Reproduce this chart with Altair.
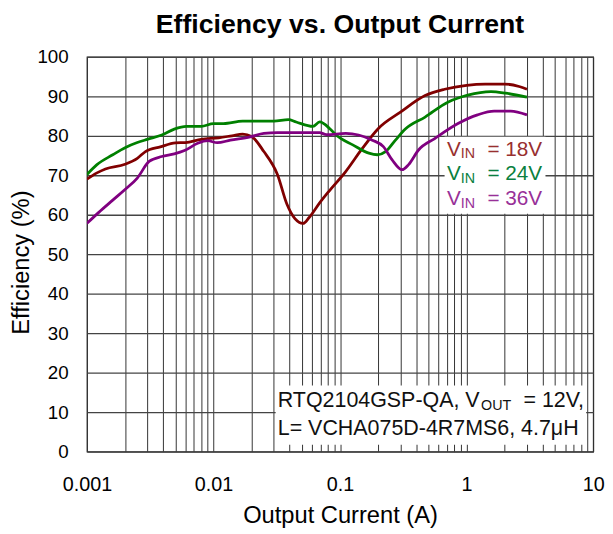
import altair as alt
import pandas as pd

# ---- data ----
x18 = [0.001, 0.0012, 0.0014, 0.002, 0.0025, 0.0029, 0.0038, 0.005, 0.006, 0.008, 0.011, 0.014,
       0.017, 0.02, 0.025, 0.032, 0.038, 0.044, 0.051, 0.057, 0.069, 0.082, 0.11, 0.15, 0.2, 0.3,
       0.47, 0.67, 1.0, 1.4, 2.0, 2.6, 3.0]
y18 = [69.0, 70.6, 71.6, 72.8, 74.3, 76.0, 77.2, 78.2, 78.3, 79.1, 79.5, 80.0,
       80.4, 79.8, 76.0, 70.2, 62.7, 59.0, 57.8, 59.3, 63.0, 66.0, 70.8, 76.8, 81.8, 86.0,
       90.2, 91.8, 92.8, 93.1, 93.1, 92.5, 91.8]

x24 = [0.001, 0.0012, 0.0016, 0.002, 0.0025, 0.003, 0.0039, 0.0049, 0.0061, 0.008, 0.01, 0.012,
       0.017, 0.03, 0.039, 0.045, 0.061, 0.069, 0.083, 0.093, 0.126, 0.169, 0.197, 0.229, 0.274,
       0.328, 0.47, 0.71, 1.02, 1.56, 2.04, 3.0]
y24 = [70.2, 72.7, 75.2, 77.0, 78.3, 79.1, 80.2, 81.7, 82.4, 82.4, 83.1, 83.1,
       83.7, 83.7, 84.1, 83.5, 82.4, 83.5, 81.8, 80.2, 77.7, 75.6, 75.2, 76.0, 78.9,
       81.7, 84.75, 88.5, 90.3, 91.2, 90.8, 89.8]

x36 = [0.001, 0.00124, 0.0016, 0.002, 0.0025, 0.0031, 0.0039, 0.0049, 0.0059, 0.0075, 0.009,
       0.0107, 0.0136, 0.0195, 0.025, 0.032, 0.069, 0.078, 0.111, 0.14, 0.18, 0.22, 0.258, 0.309,
       0.348, 0.417, 0.56, 0.855, 1.22, 1.65, 2.23, 3.0]
y36 = [57.8, 60.6, 63.7, 66.4, 69.3, 73.5, 74.75, 75.4, 76.25, 78.1, 78.75,
       78.25, 78.9, 79.75, 80.6, 80.8, 80.8, 80.3, 80.6, 80.2, 78.9, 77.25, 73.9, 71.4,
       72.7, 76.4, 79.3, 83.1, 85.3, 86.25, 86.25, 85.3]

series_names = ["18V", "24V", "36V"]
line_colors = ["#800000", "#008000", "#800080"]
text_colors = ["#983030", "#0a7f40", "#983098"]

x_ticks_all = [k * 10.0 ** e for e in range(-3, 1) for k in range(1, 10)] + [10.0]
y_ticks = list(range(0, 101, 10))

# ---- tables ----
rows = []
for name, col, xs, ys in zip(series_names, line_colors, [x18, x24, x36], [y18, y24, y36]):
    for a, b in zip(xs, ys):
        rows.append({"current": a, "eff": b, "series": name, "col": col})
lines_df = pd.DataFrame(rows)

boxes_df = pd.DataFrame({
    "current": [0.67, 0.031], "current2": [4.2, 8.8],
    "eff": [60.25, 1.75], "eff2": [79.75, 16.75],
})

legend_df = pd.DataFrame({
    "current": [0.70] * 3,
    "eff": [75.0, 68.75, 62.5],
    "v": ["V"] * 3,
    "sub": ["IN"] * 3,
    "rest": ["= " + s for s in series_names],
    "col": text_colors,
})

note_df = pd.DataFrame({
    "current": [0.0322, 0.0322],
    "eff": [11.3, 4.2],
    "main": ["RTQ2104GSP-QA, V", "L= VCHA075D-4R7MS6, 4.7\u03bcH"],
    "sub": ["OUT", ""],
    "rest": ["= 12V,", ""],
})

FONT = "Liberation Sans"

X = alt.X("current:Q",
          scale=alt.Scale(type="log", domain=[0.001, 10]),
          axis=alt.Axis(values=x_ticks_all, format="~g",
                        labelExpr="abs(log(datum.value)/log(10) - round(log(datum.value)/log(10))) < 0.001 ? datum.label : ''",
                        grid=True, gridColor="#333333", gridWidth=1, ticks=False, domain=False,
                        labelFontSize=20, labelPadding=23, labelFlush=False, labelOverlap=False,
                        labelColor="#000000",
                        title="Output Current (A)", titleFontSize=24, titleFontWeight="normal",
                        titleBaseline="alphabetic", titleY=72, titleColor="#000000"))
Y = alt.Y("eff:Q",
          scale=alt.Scale(domain=[0, 100], nice=False, zero=False),
          axis=alt.Axis(values=y_ticks, grid=True, gridColor="#444444", gridWidth=1.3,
                        ticks=False, domain=False, labelFontSize=19, labelPadding=19,
                        labelColor="#000000",
                        title="Efficiency (%)", titleFontSize=24, titleFontWeight="normal",
                        titleBaseline="middle", titleX=-66, titleY=208, titleColor="#000000"))

boxes = alt.Chart(boxes_df).mark_rect(color="white").encode(
    x=X, x2="current2:Q", y=Y, y2="eff2:Q")

lines = alt.Chart(lines_df).mark_line(strokeWidth=2.8, interpolate="monotone", clip=True).encode(
    x=X, y=Y, color=alt.Color("col:N", scale=None), detail="series:N")

leg_v = alt.Chart(legend_df).mark_text(align="left", baseline="alphabetic", font=FONT,
                                       fontSize=21).encode(
    x=X, y=Y, text="v:N", color=alt.Color("col:N", scale=None))
leg_sub = alt.Chart(legend_df).mark_text(align="left", baseline="alphabetic", font=FONT,
                                         fontSize=14.5, dx=14, dy=3).encode(
    x=X, y=Y, text="sub:N", color=alt.Color("col:N", scale=None))
leg_rest = alt.Chart(legend_df).mark_text(align="left", baseline="alphabetic", font=FONT,
                                          fontSize=21, dx=41).encode(
    x=X, y=Y, text="rest:N", color=alt.Color("col:N", scale=None))

note_main = alt.Chart(note_df).mark_text(align="left", baseline="alphabetic", font=FONT,
                                         fontSize=21.7, color="#111111").encode(
    x=X, y=Y, text="main:N")
note_sub = alt.Chart(note_df).mark_text(align="left", baseline="alphabetic", font=FONT,
                                        fontSize=14.5, dx=206, dy=3, color="#111111").encode(
    x=X, y=Y, text="sub:N")
note_rest = alt.Chart(note_df).mark_text(align="left", baseline="alphabetic", font=FONT,
                                         fontSize=21.7, dx=249, color="#111111").encode(
    x=X, y=Y, text="rest:N")

chart = alt.layer(boxes, lines, leg_v, leg_sub, leg_rest, note_main, note_sub, note_rest).properties(
    width=513, height=400,
    title=alt.TitleParams("Efficiency vs. Output Current", fontSize=27, fontWeight="bold",
                          font=FONT, anchor="middle", offset=9, color="#000000"),
    padding={"left": 80, "top": 46, "right": 12, "bottom": 78},
    autosize=alt.AutoSizeParams(type="none"),
).configure(font=FONT).configure_view(stroke="#222222", strokeWidth=1.2)

chart.save("out.html", embed_options={"renderer": "svg", "actions": False})
